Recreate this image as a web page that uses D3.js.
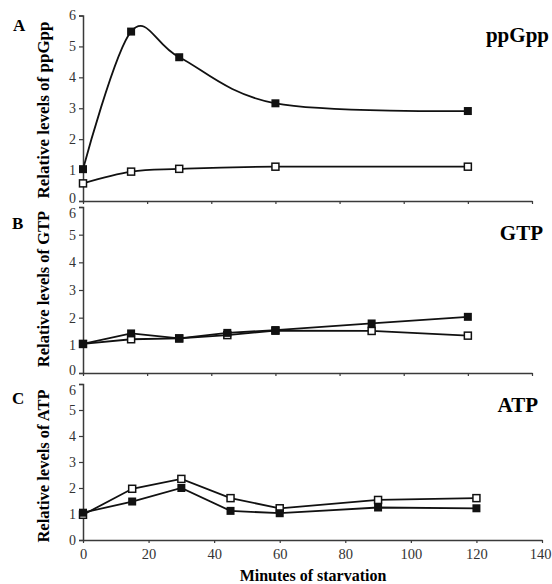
<!DOCTYPE html>
<html><head><meta charset="utf-8">
<script src="https://cdn.jsdelivr.net/npm/d3@7"></script>
<style>html,body{margin:0;padding:0;background:#fff;}svg{display:block;}</style>
</head><body>
<svg id="chart" width="552" height="584"></svg>
<script>
// ---- data ----
const ppGppMinutes = [0, 15, 30, 60, 120];
const ppGppFilled = [1.03, 5.48, 4.65, 3.16, 2.91];
const ppGppOpen = [0.57, 0.95, 1.04, 1.11, 1.11];
const nucMinutes = [0, 15, 30, 45, 60, 90, 120];
const gtpFilled = [1.05, 1.43, 1.25, 1.45, 1.55, 1.79, 2.03];
const gtpOpen = [1.05, 1.22, 1.25, 1.37, 1.53, 1.52, 1.35];
const atpFilled = [1.05, 1.48, 2.00, 1.12, 1.03, 1.25, 1.22];
const atpOpen = [0.97, 1.97, 2.35, 1.61, 1.22, 1.54, 1.61];
const yTicks = [0, 1, 2, 3, 4, 5, 6];
const xTicks = [0, 20, 40, 60, 80, 100, 120, 140];
const panelLetters = ["A", "B", "C"];
const panelTitles = ["ppGpp", "GTP", "ATP"];
const yLabels = ["Relative levels of ppGpp", "Relative levels of GTP", "Relative levels of ATP"];
const xLabel = "Minutes of starvation";

// ---- layout ----
const panels = [
  {minutes: ppGppMinutes, filled: ppGppFilled, open: ppGppOpen, x0: 83, x1: 532, yTop: 15.5, yBot: 201, smooth: true, xLabels: false,
   letter: [13, 31], title: [549, 42], ylabC: 110, ylabFs: 17},
  {minutes: nucMinutes, filled: gtpFilled, open: gtpOpen, x0: 83, x1: 532, yTop: 207, yBot: 373, smooth: false, xLabels: false,
   letter: [12, 229], title: [543, 240], ylabC: 289, ylabFs: 16.5},
  {minutes: nucMinutes, filled: atpFilled, open: atpOpen, x0: 83, x1: 542, yTop: 384, yBot: 540, smooth: false, xLabels: true,
   letter: [12, 404], title: [538, 412], ylabC: 466, ylabFs: 16.5}
];

const svg = d3.select("#chart");
const axisColor = "#3a3a3a";
const serif = "'Liberation Serif', 'Times New Roman', serif";

panels.forEach((p, i) => {
  const x = d3.scaleLinear().domain([0, 140]).range([p.x0, p.x1]);
  const y = d3.scaleLinear().domain([0, 6]).range([p.yBot, p.yTop]);
  const g = svg.append("g");

  // y axis
  const ya = g.append("g").attr("transform", `translate(${p.x0},0)`)
    .call(d3.axisLeft(y).tickValues(yTicks).tickSize(4).tickPadding(3).tickFormat(d3.format("d")));
  ya.select(".domain").attr("stroke", axisColor).attr("stroke-width", 1.5);
  ya.selectAll(".tick line").attr("stroke", axisColor).attr("stroke-width", 1.2);
  ya.selectAll("text").attr("font-family", serif).attr("font-size", 14).attr("fill", "#333")
    .attr("dy", d => (d === 6 && i > 0) ? "0.75em" : (d === 0 && i < 2) ? "0.12em" : "0.32em");

  // x axis
  const xa = g.append("g").attr("transform", `translate(0,${p.yBot})`)
    .call(d3.axisBottom(x).tickValues(xTicks).tickSize(3).tickSizeOuter(0).tickPadding(6)
      .tickFormat(p.xLabels ? d3.format("d") : () => ""));
  xa.select(".domain").attr("stroke", axisColor).attr("stroke-width", 1.5);
  xa.selectAll(".tick line").attr("stroke", axisColor).attr("stroke-width", 1.2);
  xa.selectAll("text").attr("font-family", serif).attr("font-size", 14.5).attr("fill", "#333");
  xa.selectAll(".tick").filter(d => d === 140).select("text")
    .attr("text-anchor", "end").attr("x", 9);

  const line = d3.line()
    .x((d, k) => x(p.minutes[k]))
    .y(d => y(d))
    .curve(p.smooth ? d3.curveCardinal.tension(0) : d3.curveLinear);

  [p.open, p.filled].forEach(series => {
    g.append("path").datum(series).attr("d", line)
      .attr("fill", "none").attr("stroke", "#111").attr("stroke-width", 1.8);
  });

  const sz = 7;
  g.selectAll(".open").data(p.open).join("rect")
    .attr("x", (d, k) => x(p.minutes[k]) - sz / 2)
    .attr("y", d => y(d) - sz / 2)
    .attr("width", sz).attr("height", sz)
    .attr("fill", "#fff").attr("stroke", "#111").attr("stroke-width", 1.5);
  g.selectAll(".filled").data(p.filled).join("rect")
    .attr("x", (d, k) => x(p.minutes[k]) - 4)
    .attr("y", d => y(d) - 4)
    .attr("width", 8).attr("height", 8)
    .attr("fill", "#111");

  // panel letter
  g.append("text").attr("x", p.letter[0]).attr("y", p.letter[1])
    .attr("font-family", serif).attr("font-weight", "bold").attr("font-size", 17)
    .text(panelLetters[i]);
  // panel title
  g.append("text").attr("x", p.title[0]).attr("y", p.title[1]).attr("text-anchor", "end")
    .attr("font-family", serif).attr("font-weight", "bold").attr("font-size", 21)
    .text(panelTitles[i]);
  // y label
  g.append("text")
    .attr("transform", `translate(49,${p.ylabC}) rotate(-90)`)
    .attr("text-anchor", "middle")
    .attr("font-family", serif).attr("font-weight", "bold").attr("font-size", p.ylabFs)
    .text(yLabels[i]);
});

svg.append("text").attr("x", 313).attr("y", 581).attr("text-anchor", "middle")
  .attr("font-family", serif).attr("font-weight", "bold").attr("font-size", 16)
  .text(xLabel);
</script>
</body></html>
